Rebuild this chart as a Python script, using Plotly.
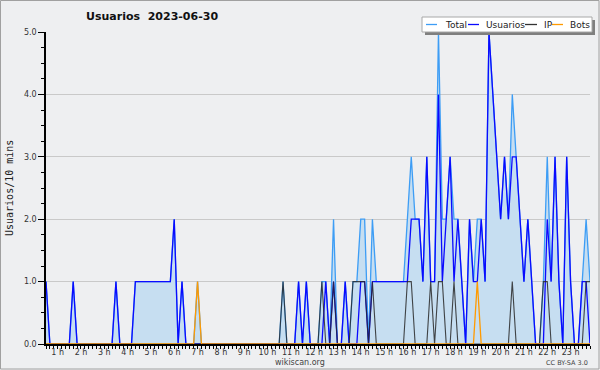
import plotly.graph_objects as go

# 10-minute slots starting at 00:30 (hours as decimal)
START_H = 0.5
usuarios = [1, 0, 0,
            0, 0, 0, 0, 1, 0,
            0, 0, 0, 0, 0, 0,
            0, 0, 0, 1, 0, 0,
            0, 0, 1, 1, 1, 1,
            1, 1, 1, 1, 1, 1,
            2, 0, 1, 0, 0, 0,
            0, 0, 0, 0, 0, 0,
            0, 0, 0, 0, 0, 0,
            0, 0, 0, 0, 0, 0,
            0, 0, 0, 0, 0, 0,
            0, 0, 1, 0, 1, 0,
            0, 0, 0, 1, 0, 1,
            0, 0, 1, 0, 0, 0,
            1, 1, 0, 1, 1, 1,
            1, 1, 1, 1, 1, 1,
            1, 2, 2, 2, 1, 3,
            1, 1, 4, 1, 2, 3,
            1, 2, 1, 0, 2, 1,
            1, 2, 1, 5, 4, 3,
            2, 3, 2, 3, 3, 2,
            1, 2, 1, 0, 0, 0,
            2, 1, 3, 1, 0, 3,
            1, 0, 0, 1, 1, 0]
total = [1, 0, 0,
         0, 0, 0, 0, 1, 0,
         0, 0, 0, 0, 0, 0,
         0, 0, 0, 1, 0, 0,
         0, 0, 1, 1, 1, 1,
         1, 1, 1, 1, 1, 1,
         2, 0, 1, 0, 0, 0,
         1, 0, 0, 0, 0, 0,
         0, 0, 0, 0, 0, 0,
         0, 0, 0, 0, 0, 0,
         0, 0, 0, 0, 1, 0,
         0, 0, 1, 0, 1, 0,
         0, 0, 1, 1, 0, 2,
         0, 0, 1, 0, 1, 1,
         2, 2, 0, 2, 1, 1,
         1, 1, 1, 1, 1, 1,
         2, 3, 2, 2, 1, 3,
         1, 1, 5, 2, 2, 3,
         2, 2, 1, 0, 2, 1,
         2, 2, 1, 5, 4, 3,
         2, 3, 2, 4, 3, 2,
         1, 2, 1, 0, 0, 1,
         3, 1, 3, 1, 0, 3,
         1, 0, 0, 1, 2, 1]
ip = [0, 0, 0,
      0, 0, 0, 0, 0, 0,
      0, 0, 0, 0, 0, 0,
      0, 0, 0, 0, 0, 0,
      0, 0, 0, 0, 0, 0,
      0, 0, 0, 0, 0, 0,
      0, 0, 0, 0, 0, 0,
      0, 0, 0, 0, 0, 0,
      0, 0, 0, 0, 0, 0,
      0, 0, 0, 0, 0, 0,
      0, 0, 0, 0, 1, 0,
      0, 0, 0, 0, 0, 0,
      0, 0, 1, 0, 0, 1,
      0, 0, 0, 0, 1, 1,
      1, 1, 0, 1, 0, 0,
      0, 0, 0, 0, 0, 0,
      1, 1, 0, 0, 0, 0,
      1, 0, 1, 1, 0, 0,
      1, 0, 0, 0, 0, 0,
      0, 0, 0, 0, 0, 0,
      0, 0, 0, 1, 0, 0,
      0, 0, 0, 0, 0, 1,
      1, 0, 0, 0, 0, 0,
      0, 0, 0, 0, 1, 1]
bots = [0, 0, 0,
        0, 0, 0, 0, 0, 0,
        0, 0, 0, 0, 0, 0,
        0, 0, 0, 0, 0, 0,
        0, 0, 0, 0, 0, 0,
        0, 0, 0, 0, 0, 0,
        0, 0, 0, 0, 0, 0,
        1, 0, 0, 0, 0, 0,
        0, 0, 0, 0, 0, 0,
        0, 0, 0, 0, 0, 0,
        0, 0, 0, 0, 0, 0,
        0, 0, 0, 0, 0, 0,
        0, 0, 0, 0, 0, 0,
        0, 0, 0, 0, 0, 0,
        0, 0, 0, 0, 0, 0,
        0, 0, 0, 0, 0, 0,
        0, 0, 0, 0, 0, 0,
        0, 0, 0, 0, 0, 0,
        0, 0, 0, 0, 0, 0,
        1, 0, 0, 0, 0, 0,
        0, 0, 0, 0, 0, 0,
        0, 0, 0, 0, 0, 0,
        0, 0, 0, 0, 0, 0,
        0, 0, 0, 0, 0, 0]
hour_ticks = list(range(1, 24))
hour_labels = [f"{h} h" for h in hour_ticks]
series_names = ["Total", "Usuarios", "IP", "Bots"]
series_colors = ["#3d9df5", "#0a0aff", "#333333", "#ff9a00"]
title_text = "Usuarios\u00a0\u00a02023-06-30"
y_title = "Usuarios/10 mins"

times = [START_H + k / 6 for k in range(len(usuarios))]

BG = "#eeeff1"
L, R, T, B = 46, 10, 32, 26
W, H = 600, 370
PW, PH = W - L - R, H - T - B


def fx(p):
    return (p - L) / PW


def fy(p):
    return (H - B - p) / PH


fig = go.Figure()
fig.add_trace(go.Scatter(x=times, y=total, mode="lines", fill="tozeroy",
                         fillcolor="rgb(198,222,241)",
                         line=dict(color=series_colors[0], width=1.3),
                         showlegend=False, hoverinfo="skip"))
fig.add_trace(go.Scatter(x=times, y=usuarios, mode="lines",
                         line=dict(color=series_colors[1], width=1.3),
                         showlegend=False, hoverinfo="skip"))
fig.add_trace(go.Scatter(x=times, y=ip, mode="lines",
                         line=dict(color="rgba(40,40,40,0.85)", width=1.1),
                         showlegend=False, hoverinfo="skip"))
fig.add_trace(go.Scatter(x=times, y=bots, mode="lines",
                         line=dict(color=series_colors[3], width=1.3),
                         showlegend=False, hoverinfo="skip"))

shapes = []
annotations = []
# outer frame
shapes.append(dict(type="rect", xref="paper", yref="paper",
                   x0=fx(0.5), x1=fx(599), y0=fy(0.5), y1=fy(369),
                   line=dict(color="#a0a0a0", width=1), fillcolor="rgba(0,0,0,0)",
                   layer="above"))
# legend shadow + box
shapes.append(dict(type="rect", xref="paper", yref="paper",
                   x0=fx(425), x1=fx(595), y0=fy(20), y1=fy(35),
                   line=dict(width=0), fillcolor="#7f7f7f", layer="above"))
shapes.append(dict(type="rect", xref="paper", yref="paper",
                   x0=fx(422), x1=fx(592), y0=fy(17), y1=fy(32),
                   line=dict(color="#a8a8a8", width=1), fillcolor="white",
                   layer="above"))
leg_line_x = [(426, 437), (468, 479), (525, 537), (552, 563)]
leg_text_x = [443, 484, 542, 568]
for name, col, (a, b), tx in zip(series_names, series_colors, leg_line_x, leg_text_x):
    shapes.append(dict(type="line", xref="paper", yref="paper",
                       x0=fx(a), x1=fx(b), y0=fy(24.5), y1=fy(24.5),
                       line=dict(color=col, width=1.3), layer="above"))
    annotations.append(dict(text=name, xref="paper", yref="paper",
                            x=fx(tx), y=fy(24.5), xanchor="left", yanchor="middle",
                            showarrow=False, font=dict(family="DejaVu Sans", size=9, color="#222")))

annotations.append(dict(text=title_text, xref="paper", yref="paper",
                        x=fx(84), y=fy(16.5), xanchor="left", yanchor="middle",
                        showarrow=False,
                        font=dict(family="DejaVu Sans", size=11, color="#111", weight="bold")))
annotations.append(dict(text=y_title, xref="paper", yref="paper",
                        x=fx(9.5), y=fy(188.5), xanchor="center", yanchor="middle",
                        textangle=-90, showarrow=False,
                        font=dict(family="DejaVu Sans Mono", size=10, color="#222")))
annotations.append(dict(text="wikiscan.org", xref="paper", yref="paper",
                        x=fx(300), y=fy(362), xanchor="center", yanchor="middle",
                        showarrow=False, font=dict(family="DejaVu Sans", size=8, color="#444")))
annotations.append(dict(text="CC BY-SA 3.0", xref="paper", yref="paper",
                        x=fx(589.5), y=fy(362.5), xanchor="right", yanchor="middle",
                        showarrow=False, font=dict(family="DejaVu Sans", size=6.5, color="#444")))

fig.update_layout(
    width=W, height=H,
    margin=dict(l=L, r=R, t=T, b=B, pad=0),
    paper_bgcolor=BG, plot_bgcolor=BG,
    showlegend=False,
    shapes=shapes, annotations=annotations,
    xaxis=dict(range=[START_H, START_H + (len(usuarios) - 1) / 6],
               tickvals=hour_ticks, ticktext=hour_labels,
               ticks="outside", ticklen=3, tickcolor="black", tickwidth=1,
               ticklabelstandoff=-3,
               showline=True, linecolor="black", linewidth=1.5,
               showgrid=False, zeroline=False,
               tickfont=dict(family="DejaVu Sans", size=8, color="#333"),
               minor=dict(dtick=1 / 6, tick0=0, ticks="outside", ticklen=3,
                          tickcolor="black", tickwidth=1, showgrid=False)),
    yaxis=dict(range=[0, 5], dtick=1, tick0=0, tickformat=".1f",
               ticks="outside", ticklen=6, tickcolor="black", tickwidth=1,
               showline=True, linecolor="black", linewidth=1.5,
               showgrid=True, gridcolor="#c9c9c9", gridwidth=1,
               zeroline=False,
               tickfont=dict(family="DejaVu Sans", size=8, color="#333"),
               minor=dict(dtick=0.25, ticks="outside", ticklen=3,
                          tickcolor="black", tickwidth=1, showgrid=False)),
)

fig.write_html("out.html")
